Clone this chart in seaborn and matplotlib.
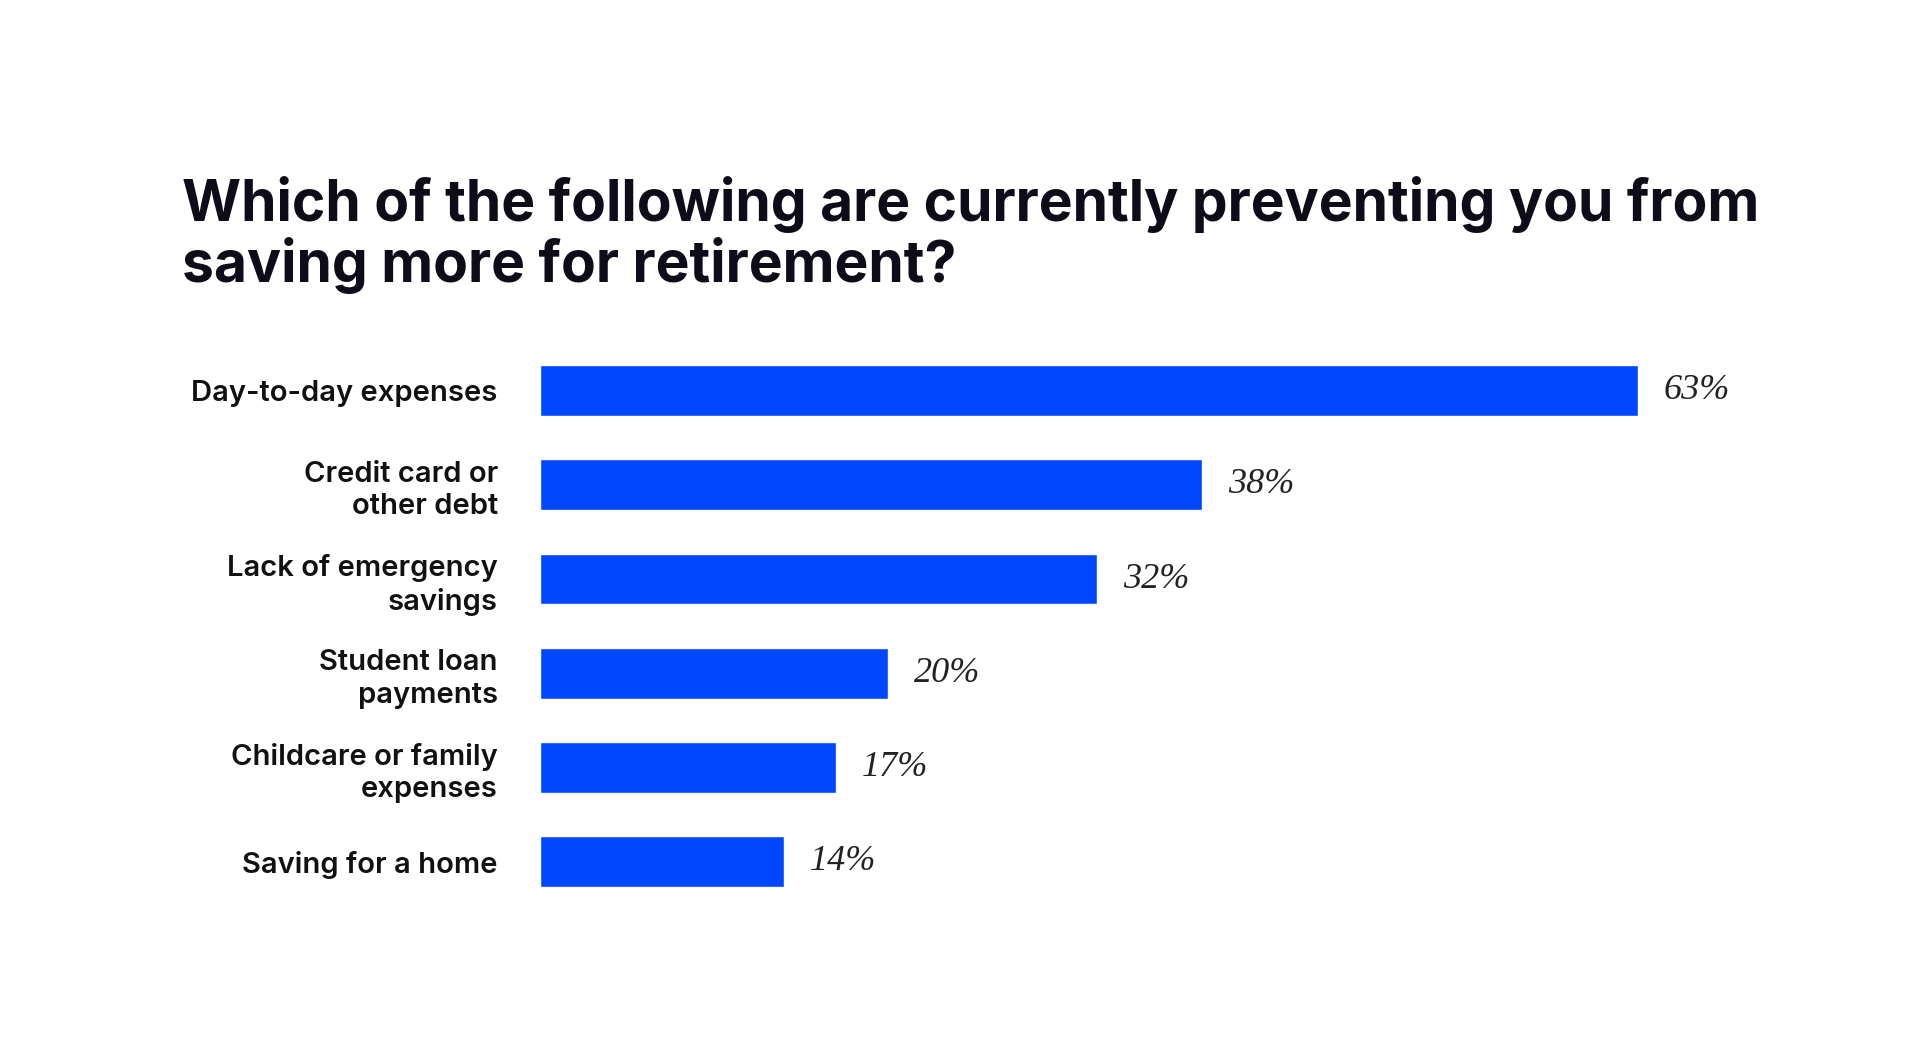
import matplotlib
matplotlib.use('Agg')
import matplotlib.pyplot as plt
import seaborn as sns
import pandas as pd

categories = ['Day-to-day expenses', 'Credit card or\nother debt', 'Lack of emergency\nsavings',
              'Student loan\npayments', 'Childcare or family\nexpenses', 'Saving for a home']
values = [63, 38, 32, 20, 17, 14]

sns.set_theme(style='white')
plt.rcParams['font.family'] = ['Inter', 'DejaVu Sans']

df = pd.DataFrame({'reason': categories, 'pct': values})

fig = plt.figure(figsize=(19.2, 10.41), dpi=100)
ax = fig.add_axes([0.281, 0.127, 0.853 - 0.281, 0.670 - 0.127])
sns.barplot(data=df, x='pct', y='reason', color='#0047FF', width=0.54, saturation=1, ax=ax)
ax.set_xlim(0, 63)
ax.set_ylim(5.5, -0.5)
sns.despine(ax=ax, left=True, bottom=True)
ax.set_xticks([])
ax.set_xlabel('')
ax.set_ylabel('')
ax.tick_params(axis='y', length=0, pad=30)
for lbl in ax.get_yticklabels():
    lbl.set_fontsize(21)
    lbl.set_fontweight('semibold')
    lbl.set_color('#111111')
    lbl.set_linespacing(1.25)

for i, v in enumerate(values):
    ax.text(v + 1.5, i, f'{v}%', va='center', ha='left', fontsize=26, style='italic',
            family='Liberation Serif', color='#222222')

fig.text(147 / 1552, 1 - 190 / 842, 'Which of the following are currently preventing you from\nsaving more for retirement?',
         fontsize=41, fontweight='bold', color='#0d0d1a', va='center', ha='left', linespacing=1.1)

fig.savefig('out.png', dpi=100, facecolor='white')
